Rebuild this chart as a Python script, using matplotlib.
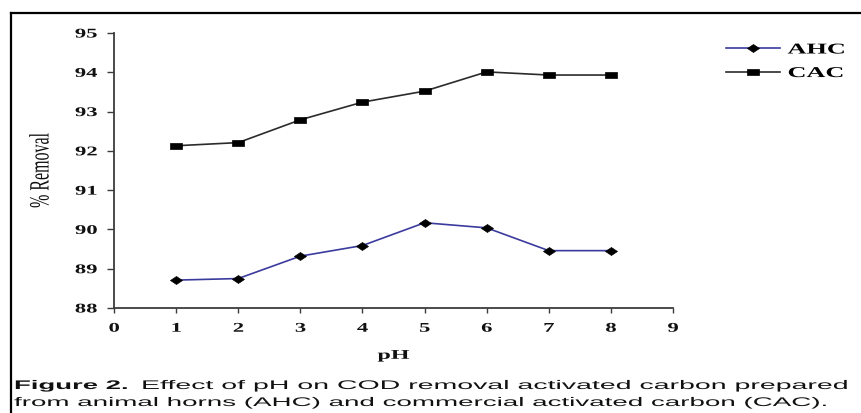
import matplotlib
matplotlib.use("Agg")
import matplotlib.pyplot as plt
from matplotlib import patheffects
from matplotlib.transforms import Affine2D
from matplotlib.lines import Line2D

plt.rcParams['font.family'] = ['Liberation Serif', 'DejaVu Serif']

# data
ph = [1, 2, 3, 4, 5, 6, 7, 8]
ahc = [88.71, 88.75, 89.32, 89.59, 90.17, 90.04, 89.46, 89.46]
cac = [92.13, 92.21, 92.79, 93.24, 93.52, 94.01, 93.93, 93.93]
xticks = list(range(0, 10))
yticks = list(range(88, 96))


class Stretch(patheffects.AbstractPathEffect):
    # the scanned figure is widened, so widen the glyphs too (anchor keeps left/center/right in place)
    def __init__(self, sx=1.0, sy=1.0, anchor=0.0):
        super().__init__()
        self.sx, self.sy, self.anchor = sx, sy, anchor

    def draw_path(self, renderer, gc, tpath, affine, rgbFace=None):
        x0 = tpath.get_extents().x1 * self.anchor
        t = Affine2D().translate(-x0, 0).scale(self.sx, self.sy).translate(x0, 0)
        renderer.draw_path(gc, tpath, t + affine, rgbFace)


W, H = 862, 413
fig = plt.figure(figsize=(W / 100, H / 100), dpi=100)
ax = fig.add_axes([114 / W, 1 - 308 / H, (673 - 114) / W, (308 - 33) / H])

diamond = [(-1.5, 0), (0, 1), (1.5, 0), (0, -1), (-1.5, 0)]
rect = [(-1, -0.5), (1, -0.5), (1, 0.5), (-1, 0.5), (-1, -0.5)]

ax.plot(ph, ahc, color='#3b3b9e', lw=1.2, marker=diamond, ms=8.6,
        mfc='black', mec='black', mew=0.5, label='AHC')
ax.plot(ph, cac, color='#2b2b2b', lw=1.2, marker=rect, ms=8.6,
        mfc='black', mec='black', mew=0.5, label='CAC')

ax.set_xlim(0, 9)
ax.set_ylim(88, 95)
ax.set_xticks(xticks)
ax.set_yticks(yticks)
for s in ['top', 'right']:
    ax.spines[s].set_visible(False)
for s in ['left', 'bottom']:
    ax.spines[s].set_color('#3c3c3c')
    ax.spines[s].set_linewidth(1.3)
ax.tick_params(axis='both', direction='out', width=1, color='#3c3c3c',
               labelsize=9.6, labelcolor='#111111', pad=7)
ax.tick_params(axis='y', length=5)
ax.tick_params(axis='x', length=3.6)

ax.set_ylabel('% Removal', fontsize=11.5, color='#111111')
ax.yaxis.set_label_coords(-0.11, 0.5)
ax.set_xlabel('pH', fontsize=9.6, fontweight='bold', color='#111111')
ax.xaxis.set_label_coords(0.5, -0.152)

for lab in ax.get_yticklabels():
    lab.set_fontweight('bold')
    lab.set_path_effects([Stretch(1.7, anchor=1)])
for lab in ax.get_xticklabels():
    lab.set_fontweight('bold')
    lab.set_path_effects([Stretch(1.7, anchor=0.5)])
ax.xaxis.label.set_path_effects([Stretch(1.8, anchor=0.5)])
ax.yaxis.label.set_path_effects([Stretch(1.0, 1.75)])

leg = ax.legend(loc='upper left', bbox_to_anchor=(726 / W, 1 - 43 / H),
                bbox_transform=fig.transFigure, frameon=False, fontsize=10.8,
                handlelength=3.6, handletextpad=0.5, labelspacing=0.67,
                borderpad=0, borderaxespad=0)
for t in leg.get_texts():
    t.set_fontweight('bold')
    t.set_path_effects([Stretch(1.75)])

# border of the scanned figure (top and left only)
fig.add_artist(Line2D([11 / W, 1], [1 - 13 / H, 1 - 13 / H], transform=fig.transFigure,
                      color='black', lw=1.6))
fig.add_artist(Line2D([11 / W, 11 / W], [0, 1 - 13 / H], transform=fig.transFigure,
                      color='black', lw=1.6))

# caption
cap = dict(fontfamily='Liberation Sans', fontsize=9, va='baseline', color='#111111')
t1 = fig.text(14 / W, 1 - 389 / H, 'Figure 2.', fontweight='bold', **cap)
t2 = fig.text(141 / W, 1 - 389 / H, 'Effect of pH on COD removal activated carbon prepared', **cap)
t3 = fig.text(14 / W, 1 - 406 / H, 'from animal horns (AHC) and commercial activated carbon (CAC).', **cap)
t1.set_path_effects([Stretch(2.2)])
t2.set_path_effects([Stretch(2.28)])
t3.set_path_effects([Stretch(2.22)])

fig.savefig('out.png', dpi=100)
